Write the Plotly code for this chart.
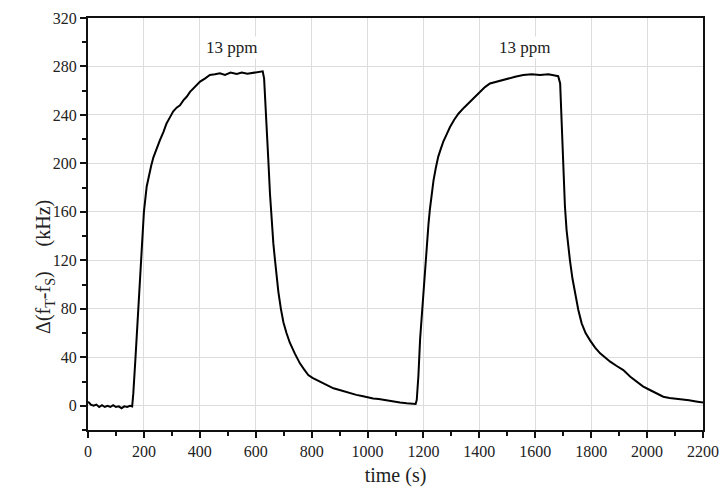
import plotly.graph_objects as go

# time (s)
time_s = [0, 5, 10, 20, 30, 40, 50, 60, 70, 80, 90, 100, 110, 120, 130, 140, 150, 158,
          162, 170, 180, 188, 200, 210, 219, 226, 234, 245, 257, 270, 281, 293, 305, 317,
          329, 341, 353, 365, 377, 389, 401, 418, 436, 454, 472, 490, 510, 532, 550, 570,
          591, 610, 625, 630, 633, 639, 645, 651, 657, 663, 669, 675, 681, 690, 699, 710,
          722, 740, 758, 773, 788, 803, 818, 840, 860, 878, 900, 920, 937, 960, 980, 997,
          1020, 1040, 1057, 1080, 1100, 1116, 1140, 1160, 1172, 1176, 1182, 1188, 1194,
          1200, 1206, 1212, 1218, 1223, 1230, 1236, 1244, 1253, 1262, 1271, 1283, 1295,
          1310, 1325, 1345, 1367, 1385, 1402, 1420, 1438, 1468, 1498, 1528, 1557, 1587,
          1617, 1647, 1670, 1682, 1689, 1695, 1700, 1706, 1712, 1718, 1724, 1733, 1742,
          1754, 1766, 1780, 1796, 1814, 1832, 1850, 1868, 1890, 1915, 1940, 1963, 1985,
          2010, 2035, 2058, 2080, 2105, 2130, 2150, 2175, 2200]

# Δ(fT - fS) (kHz)
delta_f = [3.4, 2, 1, 0, 1, -1, 0.5, -1, 0, -1, 0.5, -1, -0.5, -2, -0.5, -1, 0, -0.5,
           10, 40, 80, 120, 160, 181, 192, 198, 205, 212, 219, 226, 233, 238, 243, 246,
           248, 252, 255, 259, 262, 265, 267.5, 270, 273, 273.5, 274.4, 273, 275, 273.8, 275, 274,
           275, 275.5, 276, 270, 258, 230, 203, 175, 150, 134, 120, 106, 94, 80, 69, 60,
           52, 43, 35, 30, 25.4, 23, 21.3, 18.5, 16, 14.4, 13, 11.5, 10.3, 9, 8, 7,
           6, 5.5, 4.8, 4, 3, 2.6, 2, 1.5, 1.5, 4.8, 25, 55, 75,
           92.8, 118, 134, 150, 162, 176, 186, 196, 205.6, 212, 218, 224, 230,
           236, 241, 246, 251, 255, 259, 263, 266, 268, 270, 271.5, 273, 273.5,
           273, 273.5, 272.5, 272, 266, 230, 189, 165, 145, 131, 120, 105, 93,
           79, 68, 60, 54, 48, 43.3, 39.5, 36.4, 33, 29.5, 24, 20, 16,
           13, 10, 7.5, 6.5, 6, 5.4, 4.5, 3.5, 2.6]

labels = ["13 ppm", "13 ppm"]
label_x = [515, 1560]
label_y = [296, 296]

font_family = "Liberation Serif"

fig = go.Figure()
fig.add_trace(go.Scatter(x=time_s, y=delta_f, mode="lines",
                         line=dict(color="black", width=2), showlegend=False))

for t, lx, ly in zip(labels, label_x, label_y):
    fig.add_annotation(x=lx, y=ly, text=t, showarrow=False,
                       font=dict(family=font_family, size=17, color="#222"),
                       bgcolor="white")

fig.add_annotation(xref="paper", yref="paper", x=-0.094, y=0.395,
                   text="Δ(f<sub>T</sub>-f<sub>S</sub>)&nbsp;&nbsp;&nbsp;&nbsp;&nbsp;(kHz)",
                   textangle=-90, showarrow=False,
                   font=dict(family=font_family, size=20, color="#222"))

fig.update_layout(
    width=724, height=489,
    margin=dict(l=88, r=21, t=18, b=59, autoexpand=False),
    plot_bgcolor="white", paper_bgcolor="white",
    font=dict(family=font_family, size=16, color="#222"),
)
fig.update_xaxes(
    range=[0, 2200], tick0=0, dtick=200, showgrid=True, gridcolor="#dcdcdc", gridwidth=1,
    showline=True, linecolor="#111", linewidth=2, mirror=True, automargin=False,
    ticks="outside", ticklen=6, tickwidth=1.5, tickcolor="#111",
    minor=dict(dtick=100, ticks="outside", ticklen=4, tickcolor="#111", showgrid=False),
    zeroline=False,
    title=dict(text="time (s)", font=dict(family=font_family, size=20, color="#222"), standoff=9),
)
fig.update_yaxes(
    range=[-20, 320], tick0=0, dtick=40, showgrid=True, gridcolor="#dcdcdc", gridwidth=1,
    showline=True, linecolor="#111", linewidth=2, mirror=True, automargin=False,
    ticks="outside", ticklen=6, tickwidth=1.5, tickcolor="#111",
    minor=dict(dtick=20, tick0=0, ticks="outside", ticklen=4, tickcolor="#111", showgrid=False),
    zeroline=False,
)

fig.write_html("out.html", config={"displayModeBar": False},
               post_script="document.body.style.margin='0';document.body.style.overflow='hidden';")
